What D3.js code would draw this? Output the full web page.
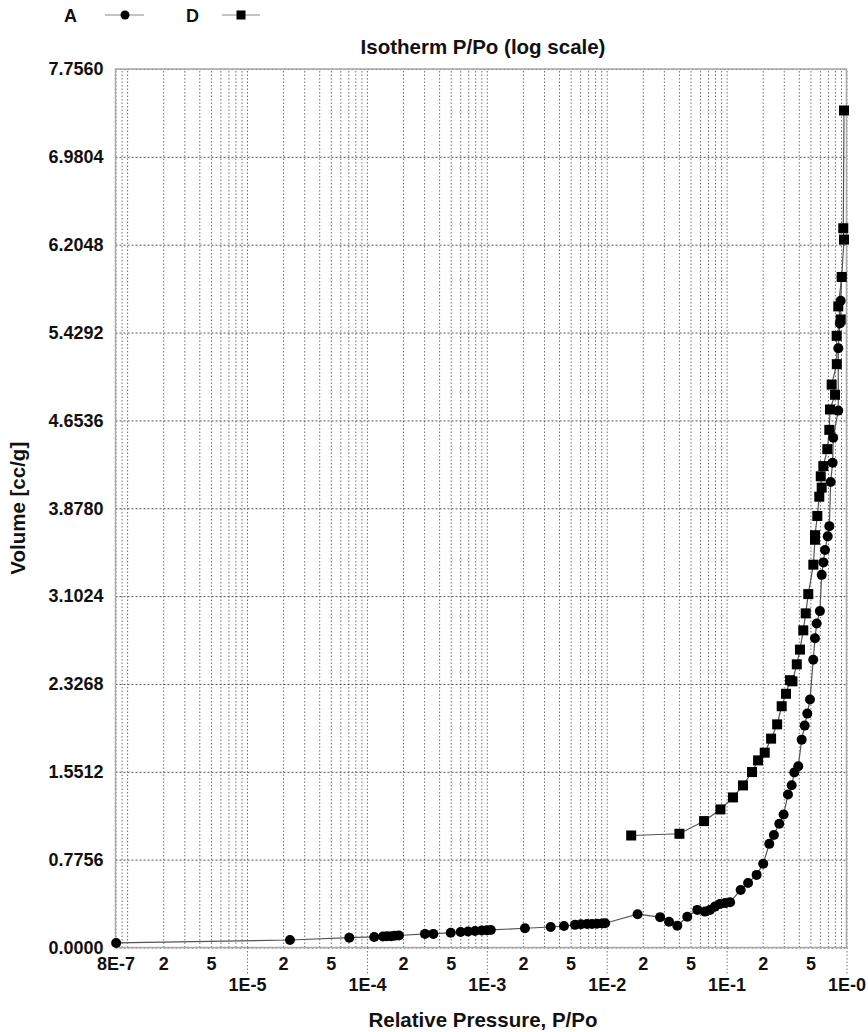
<!DOCTYPE html>
<html><head><meta charset="utf-8">
<script src="https://cdn.jsdelivr.net/npm/d3@7/dist/d3.min.js"></script>
<style>
html,body{margin:0;padding:0;background:#fff;}
svg text{font-family:"Liberation Sans",Arial,sans-serif;font-weight:bold;fill:#111;}
</style></head>
<body>
<svg id="chart" width="868" height="1032"></svg>
<script>
// ---- data ----
const seriesNames = ["A", "D"];
const aP = [8.1e-7, 2.28e-5, 7.13e-5, 1.15e-4, 1.36e-4, 1.47e-4, 1.59e-4, 1.71e-4, 1.85e-4, 3.05e-4, 3.58e-4,
  5.0e-4, 6.05e-4, 6.97e-4, 7.97e-4, 9.06e-4, 1.0e-3, 1.08e-3, 2.08e-3, 3.41e-3, 4.4e-3, 5.44e-3, 6.1e-3,
  6.85e-3, 7.54e-3, 8.3e-3, 9.14e-3, 9.7e-3, 1.81e-2, 2.79e-2, 3.31e-2, 3.88e-2, 4.7e-2, 5.7e-2, 6.6e-2,
  7.27e-2, 8.0e-2, 8.8e-2, 9.7e-2, 0.107, 0.131, 0.151, 0.178, 0.202, 0.227, 0.248, 0.275, 0.299, 0.325,
  0.349, 0.367, 0.396, 0.423, 0.448, 0.471, 0.496, 0.528, 0.546, 0.564, 0.600, 0.621, 0.641, 0.662, 0.697,
  0.719, 0.738, 0.766, 0.775, 0.853, 0.854, 0.88, 0.894, 0.912];
const aV = [0.04, 0.066, 0.087, 0.093, 0.097, 0.099, 0.10, 0.103, 0.106, 0.12, 0.12,
  0.131, 0.137, 0.142, 0.146, 0.150, 0.152, 0.155, 0.170, 0.181, 0.19, 0.20, 0.205,
  0.208, 0.208, 0.21, 0.212, 0.214, 0.294, 0.268, 0.228, 0.193, 0.272, 0.332, 0.317,
  0.332, 0.361, 0.385, 0.392, 0.40, 0.508, 0.57, 0.641, 0.74, 0.915, 0.993, 1.092, 1.174, 1.35,
  1.433, 1.546, 1.60, 1.835, 1.959, 2.065, 2.19, 2.54, 2.73, 2.86, 2.97, 3.29, 3.40, 3.51, 3.63,
  3.72, 4.11, 4.28, 4.50, 4.74, 5.29, 5.51, 5.71, 5.92];
const dP = [0.953, 0.94, 0.953, 0.912, 0.854, 0.894, 0.828, 0.83, 0.752, 0.802, 0.728, 0.719, 0.692,
  0.641, 0.61, 0.621, 0.593, 0.571, 0.546, 0.546, 0.529, 0.48, 0.457, 0.436, 0.409, 0.385, 0.354, 0.338,
  0.313, 0.288, 0.264, 0.235, 0.208, 0.183, 0.163, 0.137, 0.113, 0.0888, 0.0649, 0.0404, 0.016];
const dV = [7.39, 6.35, 6.25, 5.92, 5.66, 5.545, 5.40, 5.15, 4.97, 4.88, 4.75, 4.57, 4.40,
  4.25, 4.16, 4.06, 3.98, 3.81, 3.64, 3.60, 3.38, 3.12, 2.95, 2.80, 2.63, 2.50, 2.35, 2.36,
  2.24, 2.13, 1.97, 1.844, 1.72, 1.652, 1.549, 1.431, 1.325, 1.219, 1.116, 1.004, 0.989];
const yTicks = [0, 0.7756, 1.5512, 2.3268, 3.1024, 3.8780, 4.6536, 5.4292, 6.2048, 6.9804, 7.7560];
const xMinorLabels = [8e-7, 2e-6, 5e-6, 2e-5, 5e-5, 2e-4, 5e-4, 2e-3, 5e-3, 2e-2, 5e-2, 2e-1, 5e-1];
const xMajorTicks = [1e-5, 1e-4, 1e-3, 1e-2, 1e-1, 1];
const xMajorLabels = ["1E-5", "1E-4", "1E-3", "1E-2", "1E-1", "1E-0"];
const titleText = "Isotherm P/Po (log scale)";
const xTitle = "Relative Pressure, P/Po";
const yTitle = "Volume [cc/g]";

// ---- layout ----
const L = 115.5, R = 846.5, T = 69, B = 947.5;
const FONT = "Liberation Sans, Arial, sans-serif";
const svg = d3.select("#chart");
const x = d3.scaleLog().domain([8e-7, 1]).range([L, R]);
const y = d3.scaleLinear().domain([0, 7.756]).range([B, T]);

const gridVals = [];
for (let e = -7; e <= 0; e++) for (let m = 1; m <= 9; m++) {
  const v = m * Math.pow(10, e);
  if (v >= 8e-7 * 0.999 && v <= 1.0001) gridVals.push(v);
}

// vertical grid
svg.append("g").attr("transform", `translate(0,${B})`)
  .call(d3.axisBottom(x).tickValues(gridVals).tickSize(-(B - T)).tickFormat(""))
  .call(g => g.select(".domain").remove())
  .call(g => g.selectAll("line").attr("stroke", "#707070").attr("stroke-width", 1).attr("stroke-dasharray", "1.5,2"));

// horizontal grid
svg.append("g").attr("transform", `translate(${L},0)`)
  .call(d3.axisLeft(y).tickValues(yTicks).tickSize(-(R - L)).tickFormat(""))
  .call(g => g.select(".domain").remove())
  .call(g => g.selectAll("line").attr("stroke", "#555").attr("stroke-width", 1).attr("stroke-dasharray", "2,2"));

// frame
svg.append("rect").attr("x", L).attr("y", T).attr("width", R - L).attr("height", B - T)
  .attr("fill", "none").attr("stroke", "#aaa").attr("stroke-width", 1.5);

function styleText(g) {
  g.selectAll("text").attr("font-size", 18).attr("font-family", FONT)
    .attr("font-weight", "bold").attr("fill", "#111");
}

// y axis labels
svg.append("g").attr("transform", `translate(${L},0)`)
  .call(d3.axisLeft(y).tickValues(yTicks).tickSize(0).tickPadding(12).tickFormat(d3.format(".4f")))
  .call(g => g.select(".domain").remove())
  .call(styleText);

// x minor labels
svg.append("g").attr("transform", `translate(0,${B})`)
  .call(d3.axisBottom(x).tickValues(xMinorLabels).tickSize(0).tickPadding(10)
    .tickFormat(d => d < 1e-6 ? "8E-7" : String(Math.round(d / Math.pow(10, Math.floor(Math.log10(d) + 1e-9))))))
  .call(g => g.select(".domain").remove())
  .call(styleText);

// x major ticks + labels
svg.append("g").attr("transform", `translate(0,${B})`)
  .call(d3.axisBottom(x).tickValues(xMajorTicks).tickSize(27).tickPadding(4)
    .tickFormat((d, i) => xMajorLabels[i]))
  .call(g => g.select(".domain").remove())
  .call(g => g.selectAll("line").attr("stroke", "#777").attr("stroke-dasharray", "1.5,2"))
  .call(styleText);

// titles
svg.append("text").attr("x", (L + R) / 2 + 2).attr("y", 54).attr("text-anchor", "middle")
  .attr("font-size", 20.5).text(titleText);
svg.append("text").attr("x", (L + R) / 2 + 2).attr("y", 1027).attr("text-anchor", "middle")
  .attr("font-size", 20.5).text(xTitle);
svg.append("text").attr("transform", `translate(25,${(T + B) / 2}) rotate(-90)`).attr("text-anchor", "middle")
  .attr("font-size", 20.5).text(yTitle);

// series
const line = d3.line().x(d => x(d[0])).y(d => y(d[1]));
const aData = aP.map((p, i) => [p, aV[i]]);
const dData = dP.map((p, i) => [p, dV[i]]);

svg.append("path").datum(dData).attr("d", line).attr("fill", "none").attr("stroke", "#555").attr("stroke-width", 1.2);
svg.append("path").datum(aData).attr("d", line).attr("fill", "none").attr("stroke", "#555").attr("stroke-width", 1.2);

const sq = 10;
svg.append("g").selectAll("rect").data(dData).join("rect")
  .attr("x", d => x(d[0]) - sq / 2).attr("y", d => y(d[1]) - sq / 2)
  .attr("width", sq).attr("height", sq).attr("fill", "#000");
svg.append("g").selectAll("circle").data(aData).join("circle")
  .attr("cx", d => x(d[0])).attr("cy", d => y(d[1])).attr("r", 5).attr("fill", "#000");

// legend
const leg = svg.append("g");
leg.append("text").attr("x", 64).attr("y", 22).attr("font-size", 18).text(seriesNames[0]);
leg.append("line").attr("x1", 105).attr("x2", 144).attr("y1", 15).attr("y2", 15).attr("stroke", "#888").attr("stroke-width", 1);
leg.append("circle").attr("cx", 125).attr("cy", 15).attr("r", 4.5).attr("fill", "#000");
leg.append("text").attr("x", 186).attr("y", 22).attr("font-size", 18).text(seriesNames[1]);
leg.append("line").attr("x1", 222).attr("x2", 260).attr("y1", 15).attr("y2", 15).attr("stroke", "#888").attr("stroke-width", 1);
leg.append("rect").attr("x", 236.5).attr("y", 10.5).attr("width", 9).attr("height", 9).attr("fill", "#000");
</script>
</body></html>
